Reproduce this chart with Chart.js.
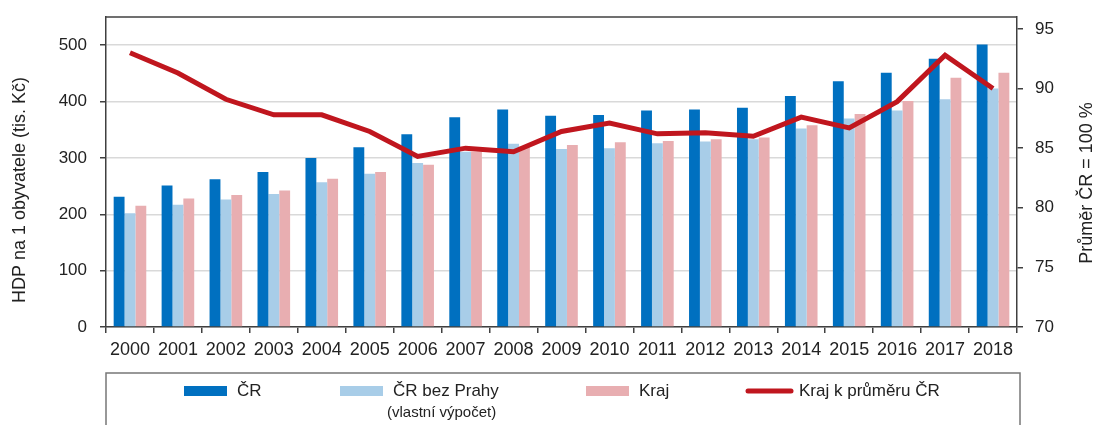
<!DOCTYPE html>
<html>
<head>
<meta charset="utf-8">
<script src="https://cdn.jsdelivr.net/npm/chart.js@4"></script>
<style>
  html, body { margin: 0; padding: 0; background: #fff; }
  #wrap { width: 1096px; height: 425px; }
</style>
</head>
<body>
<div id="wrap"><canvas id="chart" width="1096" height="425"></canvas></div>
<script>
const years = ['2000', '2001', '2002', '2003', '2004', '2005', '2006', '2007', '2008', '2009',
    '2010', '2011', '2012', '2013', '2014', '2015', '2016', '2017', '2018'];
const hdpCR = [231, 251, 262, 275, 300, 319, 342, 372, 386, 375, 376, 384, 386, 389, 410, 436, 451, 476, 501];
const hdpBezPrahy = [202, 217, 226, 236, 257, 272, 291, 311, 325, 316, 317, 326, 329, 333, 352, 370, 384, 404, 423];
const hdpKraj = [215, 228, 234, 242, 263, 275, 288, 311, 320, 323, 328, 330, 333, 336, 358, 378, 401, 442, 451];
const krajKPrumeru = [93.0, 91.3, 89.1, 87.8, 87.8, 86.4, 84.3, 85.0, 84.7, 86.4, 87.1, 86.2, 86.3, 86.0, 87.6, 86.7, 88.9, 92.8, 90.0];
const leftTicks = [0, 100, 200, 300, 400, 500];
const rightTicks = [70, 75, 80, 85, 90, 95];
const bezPrahyNote = '(vlastní výpočet)';

const FONT = "'Liberation Sans', Arial, sans-serif";
const DARK = '#404040';

// frame, axis titles and the boxed legend
const extras = {
    id: 'extras',
    afterDraw(chart) {
        const c = chart.ctx;
        const a = chart.chartArea;
        c.save();
        c.strokeStyle = DARK;
        c.lineWidth = 1.5;
        c.beginPath();
        c.moveTo(a.left, a.top);
        c.lineTo(a.right, a.top);
        c.stroke();

        c.fillStyle = '#222';
        c.textAlign = 'center';
        c.textBaseline = 'middle';
        c.font = '18px ' + FONT;
        c.save();
        c.translate(20, 190);
        c.rotate(-Math.PI / 2);
        c.fillText('HDP na 1 obyvatele (tis. Kč)', 0, 0);
        c.restore();
        c.save();
        c.translate(1087, 183);
        c.rotate(-Math.PI / 2);
        c.fillText('Průměr ČR = 100 %', 0, 0);
        c.restore();

        // legend box
        c.strokeStyle = '#777';
        c.lineWidth = 1.5;
        c.strokeRect(106, 373, 914, 70);
        const ds = chart.data.datasets;
        const items = [
            { d: ds[1], x: 184 },
            { d: ds[2], x: 340 },
            { d: ds[3], x: 586 },
            { d: ds[0], x: 746 }
        ];
        c.textAlign = 'left';
        c.font = '17px ' + FONT;
        items.forEach(it => {
            if (it.d.type === 'line') {
                c.strokeStyle = it.d.borderColor;
                c.lineWidth = 5;
                c.lineCap = 'round';
                c.beginPath();
                c.moveTo(it.x + 2, 391);
                c.lineTo(it.x + 45, 391);
                c.stroke();
            } else {
                c.fillStyle = it.d.backgroundColor;
                c.fillRect(it.x, 386, 43, 10);
            }
            c.fillStyle = '#222';
            c.fillText(it.d.label, it.x + 53, 391);
        });
        c.font = '15px ' + FONT;
        c.fillText(bezPrahyNote, 387, 413);
        c.restore();
    }
};

const ctx = document.getElementById('chart').getContext('2d');

const chart = new Chart(ctx, {
    type: 'bar',
    data: {
        labels: years,
        datasets: [{
            type: 'line',
            label: 'Kraj k průměru ČR',
            data: krajKPrumeru,
            yAxisID: 'y1',
            borderColor: '#C0161E',
            borderWidth: 5,
            pointRadius: 0,
            tension: 0,
            order: 0
        }, {
            label: 'ČR',
            data: hdpCR,
            backgroundColor: '#0070C0',
            yAxisID: 'y',
            order: 1
        }, {
            label: 'ČR bez Prahy',
            data: hdpBezPrahy,
            backgroundColor: '#A8CDE8',
            yAxisID: 'y',
            order: 1
        }, {
            label: 'Kraj',
            data: hdpKraj,
            backgroundColor: '#E8AEB1',
            yAxisID: 'y',
            order: 1
        }]
    },
    options: {
        responsive: false,
        animation: false,
        datasets: {
            bar: { categoryPercentage: 0.68, barPercentage: 1.0 }
        },
        layout: { padding: { top: 17, bottom: 52, left: 0, right: 0 } },
        plugins: {
            legend: { display: false },
            tooltip: { enabled: false }
        },
        scales: {
            x: {
                afterFit: s => { s.height = 46; s.paddingLeft = 0; s.paddingRight = 0; },
                grid: { offset: true, drawOnChartArea: false, tickColor: DARK, tickLength: 6, lineWidth: 1.5 },
                border: { color: DARK, width: 1.5 },
                ticks: { color: '#222', font: { family: FONT, size: 18 }, padding: 6, maxRotation: 0, autoSkip: false }
            },
            y: {
                position: 'left',
                min: 0,
                max: 550,
                afterFit: s => { s.width = 106; s.paddingTop = 0; s.paddingBottom = 0; },
                afterBuildTicks: s => { s.ticks = leftTicks.map(v => ({ value: v })); },
                grid: { color: '#D9D9D9', lineWidth: 1.5, tickColor: DARK, tickLength: 6 },
                border: { color: DARK, width: 1.5 },
                ticks: { color: '#222', font: { family: FONT, size: 17 }, padding: 13 }
            },
            y1: {
                position: 'right',
                min: 70,
                max: 96,
                afterFit: s => { s.width = 79; s.paddingTop = 0; s.paddingBottom = 0; },
                afterBuildTicks: s => { s.ticks = rightTicks.map(v => ({ value: v })); },
                grid: { drawOnChartArea: false, tickColor: DARK, tickLength: 6, lineWidth: 1.5 },
                border: { color: DARK, width: 1.5 },
                ticks: { color: '#222', font: { family: FONT, size: 17 }, padding: 12 }
            }
        }
    },
    plugins: [extras]
});
</script>
</body>
</html>
